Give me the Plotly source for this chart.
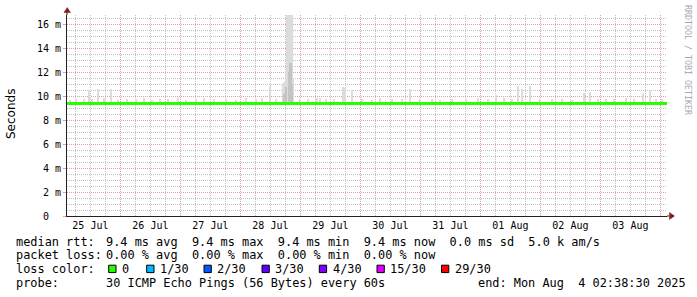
import plotly.graph_objects as go

# ---------------- data ----------------
start_time = "2025-07-25 02:38:30"
end_time = "2025-08-04 02:38:30"

median_times = [start_time, end_time]
median_rtt_ms = [9.4, 9.4]

# light smoke (max of pings) in ms
smoke_times = [
    "2025-07-25 03:50", "2025-07-25 06:14", "2025-07-25 09:26", "2025-07-25 11:26", "2025-07-25 12:38",
    "2025-07-25 15:02", "2025-07-25 17:26", "2025-07-25 20:14", "2025-07-25 23:02",
    "2025-07-26 02:38", "2025-07-26 06:14", "2025-07-26 09:26", "2025-07-26 12:38", "2025-07-26 15:50",
    "2025-07-26 19:02", "2025-07-26 23:02",
    "2025-07-27 02:14", "2025-07-27 06:14", "2025-07-27 09:26", "2025-07-27 13:26", "2025-07-27 18:14",
    "2025-07-27 22:14",
    "2025-07-28 02:14", "2025-07-28 06:14", "2025-07-28 08:38", "2025-07-28 11:50", "2025-07-28 14:14",
    "2025-07-28 17:02", "2025-07-28 17:26", "2025-07-28 17:50", "2025-07-28 18:14", "2025-07-28 18:38",
    "2025-07-28 19:02", "2025-07-28 19:26", "2025-07-28 19:50", "2025-07-28 20:14", "2025-07-28 20:38",
    "2025-07-28 21:02", "2025-07-28 23:50",
    "2025-07-29 03:02", "2025-07-29 06:38", "2025-07-29 07:50", "2025-07-29 10:14", "2025-07-29 13:26",
    "2025-07-29 17:02", "2025-07-29 17:50", "2025-07-29 20:38",
    "2025-07-30 00:38", "2025-07-30 04:38", "2025-07-30 07:50", "2025-07-30 12:38", "2025-07-30 16:38",
    "2025-07-30 19:50", "2025-07-30 23:50",
    "2025-07-31 04:38", "2025-07-31 07:50", "2025-07-31 12:38", "2025-07-31 18:14", "2025-07-31 23:02",
    "2025-08-01 03:02", "2025-08-01 06:14", "2025-08-01 09:26", "2025-08-01 12:38", "2025-08-01 15:02",
    "2025-08-01 16:38", "2025-08-01 19:50", "2025-08-01 23:50",
    "2025-08-02 04:38", "2025-08-02 08:38", "2025-08-02 12:38", "2025-08-02 17:26", "2025-08-02 19:50",
    "2025-08-02 23:02",
    "2025-08-03 02:14", "2025-08-03 05:26", "2025-08-03 10:14", "2025-08-03 13:26", "2025-08-03 17:02",
    "2025-08-03 19:50", "2025-08-03 22:14",
    "2025-08-04 00:38",
]
smoke_max_ms = [
    9.7, 9.8, 9.75, 10.5, 9.8,
    10.6, 9.85, 10.6, 9.7,
    9.8, 9.75, 9.9, 9.7, 9.8,
    9.75, 9.85,
    9.7, 9.8, 9.9, 9.75, 9.8,
    9.7,
    9.85, 9.75, 9.9, 10.9, 9.8,
    11.0, 11.2, 11.2, 12.1, 16.8,
    16.8, 13.5, 16.8, 16.8, 16.8,
    11.5, 9.8,
    9.75, 9.9, 9.9, 9.8, 9.75,
    10.75, 10.7, 10.5,
    9.8, 9.7, 9.85, 9.75, 9.8,
    10.6, 9.75,
    9.8, 9.7, 9.8, 9.75, 9.85,
    9.8, 10.1, 9.9, 9.75, 10.85,
    10.6, 10.85, 9.8,
    9.75, 9.8, 9.7, 10.3, 10.4,
    9.8,
    9.75, 9.8, 9.9, 9.75, 10.3,
    10.5, 9.8,
    9.75,
]

# darker inner smoke in ms
core_times = ["2025-07-28 17:26", "2025-07-28 17:50", "2025-07-28 18:14", "2025-07-28 19:26",
              "2025-07-28 19:50", "2025-07-28 20:14", "2025-07-28 20:38"]
core_ms = [10.2, 10.3, 10.8, 12.0, 12.8, 12.8, 11.0]

y_ticks = [0, 2, 4, 6, 8, 10, 12, 14, 16]
y_tick_text = ["0\u00a0\u00a0", "2 m", "4 m", "6 m", "8 m", "10 m", "12 m", "14 m", "16 m"]

loss_labels = ["0", "1/30", "2/30", "3/30", "4/30", "15/30", "29/30"]
loss_colors = ["#26ff00", "#00b8ff", "#0059ff", "#5e00ff", "#7e00ff", "#dd00ff", "#ff0000"]

legend_rtt = "9.4 ms avg  9.4 ms max  9.4 ms min  9.4 ms now  0.0 ms sd  5.0 k am/s"
legend_loss = "0.00 % avg  0.00 % max  0.00 % min  0.00 % now"
probe_text = "30 ICMP Echo Pings (56 Bytes) every 60s"
end_text = "end: Mon Aug  4 02:38:30 2025"

# ---------------- layout helpers ----------------
W, H = 697, 297
L, R, T, B = 67, 30, 15, 81
PW = W - L - R
PH = H - T - B


def px(x):
    return (x - L) / PW


def py(y):
    return (H - B - y) / PH


MONO = "DejaVu Sans Mono"
BASE = 9.3
BAR_W = 1.3e6  # ms

fig = go.Figure()
fig.add_trace(go.Bar(x=smoke_times, y=[v - BASE for v in smoke_max_ms], base=BASE,
                     width=BAR_W, marker=dict(color="#dcdcdc", line=dict(width=0)),
                     showlegend=False, hoverinfo="skip"))
fig.add_trace(go.Bar(x=core_times, y=[v - BASE for v in core_ms], base=BASE,
                     width=BAR_W, marker=dict(color="#c4c4c4", line=dict(width=0)),
                     showlegend=False, hoverinfo="skip"))
fig.add_trace(go.Scatter(x=median_times, y=median_rtt_ms, mode="lines",
                         line=dict(color=loss_colors[0], width=3),
                         showlegend=False, hoverinfo="skip"))

MINOR_GRID = "rgb(195,195,195)"
MAJOR_GRID = "rgb(222,160,160)"
DASH = "1px,1px"

fig.update_layout(
    width=W, height=H,
    margin=dict(l=L, r=R, t=T, b=B, pad=0),
    paper_bgcolor="white", plot_bgcolor="white",
    barmode="overlay", bargap=0,
    showlegend=False,
    xaxis=dict(
        type="date", range=[start_time, end_time],
        tick0="2025-07-25", dtick=86400000, tickformat="%d %b", ticklabelmode="period",
        showgrid=True, gridcolor=MAJOR_GRID, griddash=DASH, gridwidth=1,
        minor=dict(dtick=21600000, tick0="2025-07-25", showgrid=True, gridcolor=MINOR_GRID,
                   griddash=DASH, gridwidth=1),
        showline=True, linecolor="#212121", linewidth=1,
        ticks="", tickfont=dict(family=MONO, size=10, color="black"),
        zeroline=False, fixedrange=True,
    ),
    yaxis=dict(
        range=[0, PH / 11.96], tickmode="array", tickvals=y_ticks, ticktext=y_tick_text,
        showgrid=True, gridcolor=MAJOR_GRID, griddash=DASH, gridwidth=1,
        minor=dict(dtick=0.5, tick0=0, showgrid=True, gridcolor=MINOR_GRID,
                   griddash=DASH, gridwidth=1),
        showline=True, linecolor="#212121", linewidth=1,
        ticks="outside", ticklen=3, tickcolor=MAJOR_GRID,
        tickfont=dict(family=MONO, size=10, color="black"),
        zeroline=False, fixedrange=True,
    ),
)

shapes = []
# axis extensions
shapes.append(dict(type="line", xref="paper", yref="paper", x0=px(L + PW), x1=px(669.5),
                   y0=py(216), y1=py(216), line=dict(color="#212121", width=1)))
shapes.append(dict(type="line", xref="paper", yref="paper", x0=0, x1=0,
                   y0=1, y1=py(11), line=dict(color="#212121", width=1)))
# arrows
shapes.append(dict(type="path", xref="paper", yref="paper",
                   path=f"M {px(669.5)},{py(212.5)} L {px(669.5)},{py(219.5)} L {px(674.5)},{py(216)} Z",
                   fillcolor="#801f1f", line=dict(color="#801f1f", width=0.5)))
shapes.append(dict(type="path", xref="paper", yref="paper",
                   path=f"M {px(64)},{py(12.5)} L {px(70.5)},{py(12.5)} L {px(67.2)},{py(7.5)} Z",
                   fillcolor="#801f1f", line=dict(color="#801f1f", width=0.5)))

box_left = [108.7, 146.7, 204.0, 262.0, 319.3, 377.0, 441.5]
for bx, col in zip(box_left, loss_colors):
    shapes.append(dict(type="rect", xref="paper", yref="paper",
                       x0=px(bx), x1=px(bx + 7.3), y0=py(265.2), y1=py(272.6),
                       fillcolor=col, line=dict(color="black", width=1)))
fig.update_layout(shapes=shapes)

annotations = []


def txt(x, y, s, size=11.9, family=MONO, color="black", angle=0, xanchor="left"):
    annotations.append(dict(x=px(x), y=py(y), xref="paper", yref="paper",
                            text=s.replace(" ", "\u00a0"), showarrow=False,
                            xanchor=xanchor, yanchor="middle", textangle=angle,
                            borderpad=0, borderwidth=0,
                            font=dict(family=family, size=size, color=color)))


txt(16, 241.7, "median rtt:")
txt(106.3, 241.7, legend_rtt)
txt(16, 255.2, "packet loss:")
txt(106.3, 255.2, legend_loss)
txt(16, 268.9, "loss color:")
for bx, lab in zip(box_left, loss_labels):
    txt(bx + 13.3, 268.9, lab)
txt(16, 282.7, "probe:")
txt(106.3, 282.7, probe_text)
txt(477.6, 282.7, end_text)

txt(11, 114, "Seconds", size=12, family="DejaVu Sans", angle=-90, xanchor="center")
txt(688, 60, "RRDTOOL / TOBI OETIKER", size=8.3, color="#aaaaaa", angle=90, xanchor="center")

fig.update_layout(annotations=annotations)

fig.write_html("out.html")
